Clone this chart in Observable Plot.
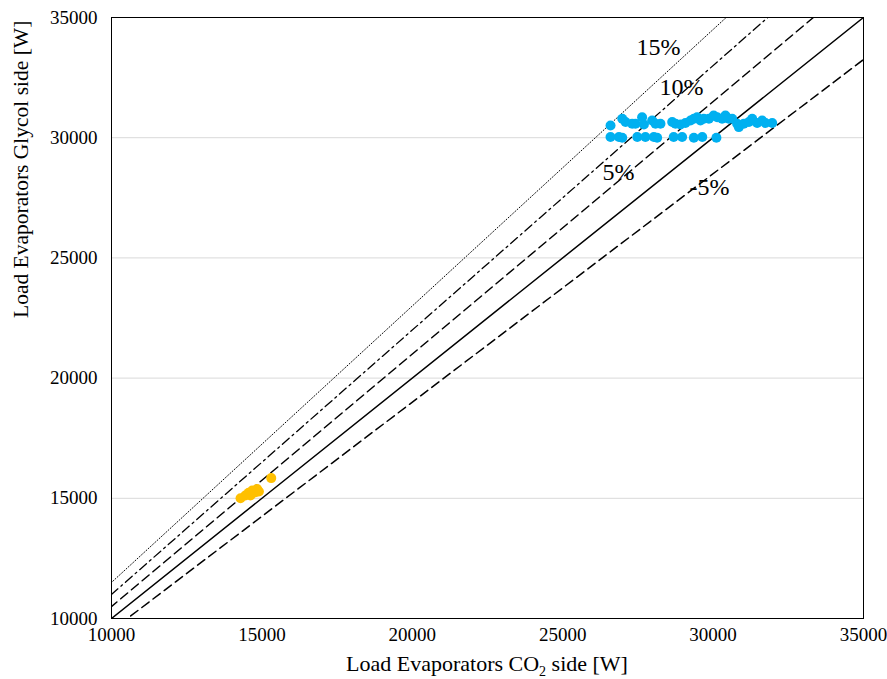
<!DOCTYPE html>
<html>
<head>
<meta charset="utf-8">
<script src="https://cdn.jsdelivr.net/npm/d3@7"></script>
<script src="https://cdn.jsdelivr.net/npm/@observablehq/plot@0.6"></script>
<style>
  body { margin: 0; background: #fff; }
  #chart svg { display: block; }
</style>
</head>
<body>
<div id="chart"></div>
<script>
// Axis ticks
const xTicks = [10000, 15000, 20000, 25000, 30000, 35000];
const yTicks = [10000, 15000, 20000, 25000, 30000, 35000];

// Glycol measurements (blue) — CO2 side load vs Glycol side load
const blueX = [26590, 26980, 27090, 27310, 27420, 27640, 27700, 27975, 28085, 28250,
               28640, 28750, 28915, 29080, 29250, 29360, 29470, 29580, 29690, 29860,
               30020, 30135, 30300, 30410, 30520, 30635, 30800, 30855, 31020, 31190,
               31300, 31465, 31630, 31740, 31965,
               26590, 26870, 26980, 27480, 27750, 28030, 28140, 28690, 28970, 29360, 29640, 30110];
const blueY = [30510, 30790, 30650, 30580, 30580, 30850, 30550, 30715, 30580, 30580,
               30650, 30580, 30550, 30610, 30715, 30790, 30850, 30715, 30790, 30790,
               30920, 30850, 30790, 30920, 30790, 30790, 30580, 30440, 30580, 30650,
               30790, 30610, 30715, 30610, 30610,
               30030, 30030, 30000, 30030, 30030, 30030, 30000, 30030, 30030, 30000, 30030, 30000];

// Orange measurements
const orangeX = [14290, 14450, 14560, 14680, 14790, 14840, 14900, 14620, 15310];
const orangeY = [15000, 15120, 15230, 15320, 15250, 15390, 15280, 15120, 15840];

// Reference deviation lines
const refNames = ["0%", "5%", "10%", "15%", "-5%"];
const refFactors = [1.00, 1.05, 1.10, 1.15, 0.95];
const refDash = ["none", "9,5", "9,4,2,4", "1,2", "9,5"];
const refWidth = [1.5, 1.5, 1.3, 1.0, 1.5];

// Line labels
const labelText = ["15%", "10%", "5%", "-5%"];
const labelX = [28185, 28950, 26855, 29880];
const labelY = [33750, 32090, 28550, 27950];

const blue = blueX.map((x, i) => ({x, y: blueY[i]}));
const orange = orangeX.map((x, i) => ({x, y: orangeY[i]}));
const refLines = [];
refFactors.forEach((f, i) => {
  [10000 / f - 1000, 35000].forEach(x => refLines.push({name: refNames[i], x, y: x * f}));
});
const labels = labelText.map((t, i) => ({t, x: labelX[i], y: labelY[i]}));

const refMarks = refNames.map((n, i) =>
  Plot.line(refLines.filter(d => d.name === n), {
    x: "x", y: "y", stroke: "black", strokeWidth: refWidth[i],
    strokeDasharray: refDash[i] === "none" ? null : refDash[i], clip: true
  })
);

const serif = "'Liberation Serif', 'Times New Roman', serif";

const chart = Plot.plot({
  width: 887,
  height: 679,
  marginLeft: 111,
  marginRight: 24,
  marginTop: 17,
  marginBottom: 61,
  style: {fontFamily: serif, fontSize: "19px", color: "black", background: "white"},
  x: {domain: [10000, 35000], ticks: xTicks, tickFormat: "d", label: null},
  y: {domain: [10000, 35000], ticks: yTicks, tickFormat: "d", label: null},
  marks: [
    Plot.gridY(yTicks, {stroke: "#d9d9d9", strokeOpacity: 1, strokeWidth: 1}),
    ...refMarks,
    Plot.dot(blue, {x: "x", y: "y", r: 5, fill: "#00B0F0", stroke: "none"}),
    Plot.dot(orange, {x: "x", y: "y", r: 5, fill: "#FFC000", stroke: "none"}),
    Plot.text(labels, {x: "x", y: "y", text: "t", fontSize: 24, fill: "black"}),
    Plot.frame({stroke: "black", strokeWidth: 1}),
    Plot.axisX({ticks: xTicks, tickFormat: "d", tickSize: 0, tickPadding: 9, fontSize: 19, label: null}),
    Plot.axisY({ticks: yTicks, tickFormat: "d", tickSize: 0, tickPadding: 14, fontSize: 19, label: null}),
    Plot.text(["Load Evaporators Glycol side [W]"], {frameAnchor: "left", dx: -90, rotate: -90, fontSize: 21.5, fill: "black"})
  ]
});

document.getElementById("chart").appendChild(chart);

// X axis title with subscript
const svg = d3.select(chart);
const xt = svg.append("text")
  .attr("x", (111 + 863) / 2)
  .attr("y", 671)
  .attr("text-anchor", "middle")
  .attr("font-size", 22)
  .attr("font-family", serif)
  .attr("fill", "black");
xt.append("tspan").text("Load Evaporators CO");
xt.append("tspan").attr("font-size", 14).attr("dy", 5).text("2");
xt.append("tspan").attr("dy", -5).text(" side [W]");
</script>
</body>
</html>
